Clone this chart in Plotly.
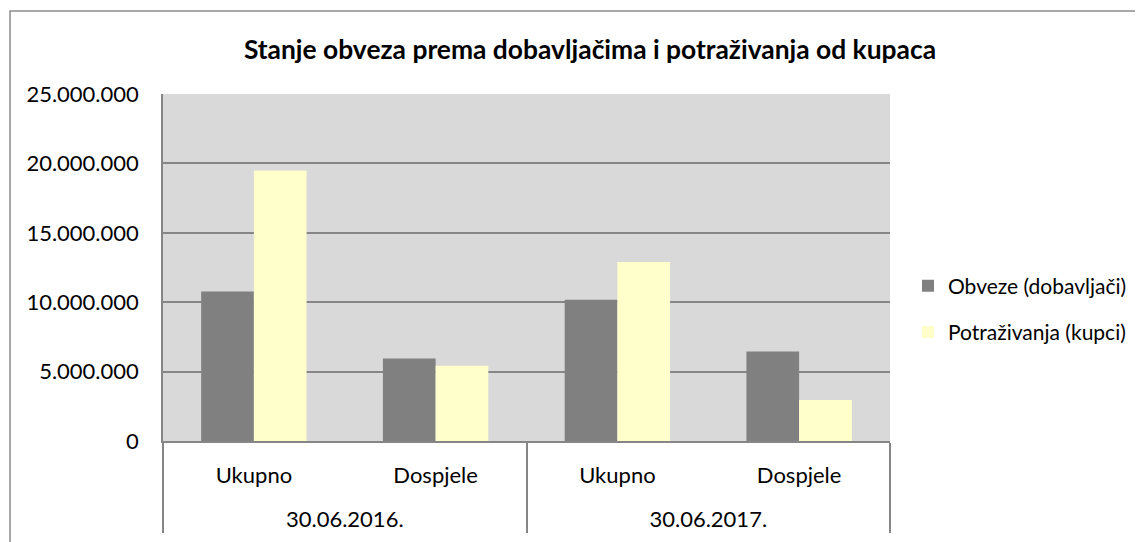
import plotly.graph_objects as go

periods = ["30.06.2016.", "30.06.2016.", "30.06.2017.", "30.06.2017."]
kinds = ["Ukupno", "Dospjele", "Ukupno", "Dospjele"]
obveze = [10770000, 5940000, 10170000, 6440000]
potrazivanja = [19480000, 5430000, 12890000, 2960000]
y_ticks = [0, 5000000, 10000000, 15000000, 20000000, 25000000]
y_tick_labels = ["0", "5.000.000", "10.000.000", "15.000.000", "20.000.000", "25.000.000"]

FONT = "Lato, 'Open Sans', sans-serif"
OFF = 8  # page body margin
W, H = 1143 - OFF, 542 - OFF
# plot area in page pixels
L, R, T, B = 163, 890, 94, 441
Lf, Rf, Tf, Bf = L - OFF, R - OFF, T - OFF, B - OFF

# outer-level labels pushed down one line to mimic Excel's spacing
period_labels = ["<br>" + p for p in periods]
xcats = [period_labels, kinds]

fig = go.Figure()
fig.add_trace(go.Bar(x=xcats, y=obveze, name="Obveze (dobavljači)",
                     legendgroup="a",
                     marker=dict(color="#808080", line=dict(width=0))))
fig.add_trace(go.Bar(x=xcats, y=potrazivanja, name="Potraživanja (kupci)",
                     legendgroup="b",
                     marker=dict(color="#FFFFCC", line=dict(width=0))))

pw, ph = R - L, B - T
def px(x):
    return (x - L) / pw
def py(y):
    return (B - y) / ph

fig.update_layout(
    width=W, height=H,
    margin=dict(l=Lf, r=W - Rf, t=Tf, b=H - Bf, autoexpand=False),
    paper_bgcolor="white", plot_bgcolor="#D9D9D9",
    barmode="group", bargap=0.42, bargroupgap=0,
    font=dict(family=FONT, size=22, color="black"),
    title=dict(text="<b>Stanje obveza prema dobavljačima i potraživanja od kupaca</b>",
               x=(590 - OFF) / W, xanchor="center", y=1 - (50 - OFF) / H, yanchor="middle",
               font=dict(family=FONT, size=26.4, color="black")),
    legend=dict(x=px(908), xanchor="left", y=py(309), yanchor="middle",
                font=dict(family=FONT, size=21), bgcolor="rgba(0,0,0,0)",
                tracegroupgap=16, itemwidth=30),
    showlegend=True,
    shapes=[dict(type="rect", xref="paper", yref="paper",
                 x0=px(10), x1=px(1300), y0=py(700), y1=py(11),
                 line=dict(color="#8C8C8C", width=1.5), fillcolor="rgba(0,0,0,0)", layer="below")],
)
fig.update_yaxes(range=[0, 25000000], tickvals=y_ticks, ticktext=y_tick_labels,
                 showgrid=True, gridcolor="#868686", gridwidth=1.5,
                 showline=True, linecolor="#868686", linewidth=1.5,
                 ticks="", tickfont=dict(size=22), ticklabelstandoff=18, zeroline=False)
fig.update_xaxes(showline=True, linecolor="#868686", linewidth=1.5,
                 showdividers=True, dividercolor="#868686", dividerwidth=1.5,
                 ticks="", tickfont=dict(size=22), ticklabelstandoff=14)

fig.write_html("out.html")
